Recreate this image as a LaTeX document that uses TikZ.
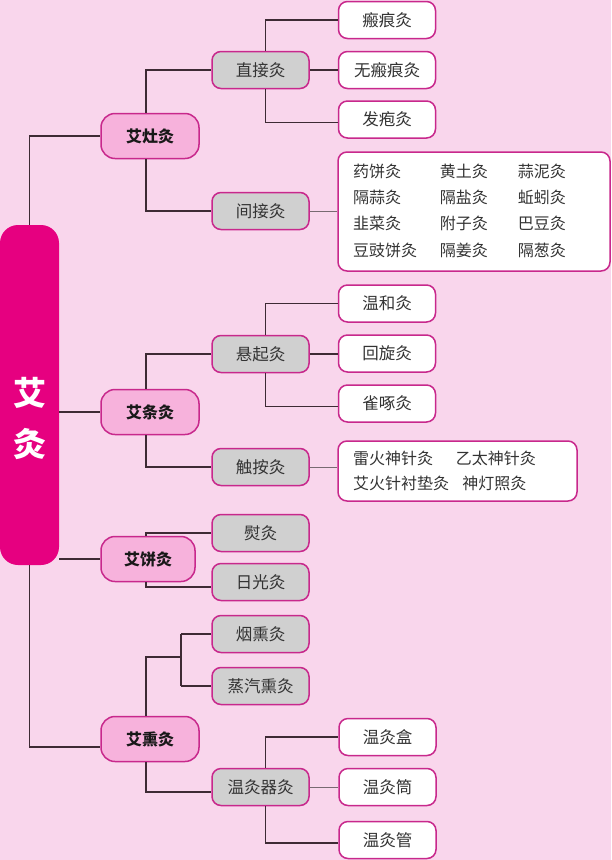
\documentclass[tikz,border=0pt]{standalone}
\usepackage{fontspec}
\setmainfont{Noto Sans CJK SC}
\definecolor{bgpink}{RGB}{249,214,236}
\definecolor{rootmag}{RGB}{230,0,128}
\definecolor{catpink}{RGB}{247,178,220}
\definecolor{edgemag}{RGB}{200,40,140}
\definecolor{subgrey}{RGB}{208,208,208}
\definecolor{wirecol}{RGB}{62,42,52}
\begin{document}
\begin{tikzpicture}[x=1pt, y=-1pt,
  wireline/.style={draw=wirecol, line width=1.6pt},
  thinwire/.style={draw=wirecol!70, line width=0.9pt},
  catbox/.style={draw=edgemag, fill=catpink, line width=1.5pt, rounded corners=14pt,
    minimum width=98pt, minimum height=45pt, inner sep=0pt, text=black!90,
    font=\fontsize{16}{18}\selectfont\bfseries},
  subbox/.style={draw=edgemag, fill=subgrey, line width=1.5pt, rounded corners=9pt,
    minimum width=97pt, minimum height=37pt, inner sep=0pt, text=black!80,
    font=\fontsize{16.5}{18}\selectfont},
  leafbox/.style={subbox, fill=white},
  listbox/.style={draw=edgemag, fill=white, line width=1.5pt, rounded corners=9pt,
    inner ysep=0pt, inner xsep=15pt, align=left, text=black!80}]
\fill[bgpink] (0,0) rectangle (611,860);
% root
\node[fill=rootmag, rounded corners=18pt, minimum width=59pt, minimum height=340pt] (root) at (29.5,395) {};
\node[text=white, align=center, font=\fontsize{33}{51}\selectfont\bfseries] (rootlbl) at (29.5,418) {艾\\灸};
% categories
\node[catbox] (zao) at (150,136) {艾灶灸};
\node[catbox] (tiao) at (150,412) {艾条灸};
\node[catbox, minimum width=94pt] (bing) at (148,559) {艾饼灸};
\node[catbox] (xun) at (150,739) {艾熏灸};
% second level
\node[subbox] (zhijie) at (260.5,70) {直接灸};
\node[subbox] (jianjie) at (260.5,211) {间接灸};
\node[subbox] (xuanqi) at (260.5,354) {悬起灸};
\node[subbox] (chuan) at (260.5,467) {触按灸};
\node[subbox] (yun) at (260.5,533) {熨灸};
\node[subbox] (riguang) at (260.5,582) {日光灸};
\node[subbox] (yanxun) at (260.5,634) {烟熏灸};
\node[subbox] (zhengqi) at (260.5,686) {蒸汽熏灸};
\node[subbox] (wenqi) at (260.5,787) {温灸器灸};
% leaves
\node[leafbox] (banhen) at (387,20) {瘢痕灸};
\node[leafbox] (wubanhen) at (387,70) {无瘢痕灸};
\node[leafbox] (fapao) at (387,119.5) {发疱灸};
\node[leafbox] (wenhe) at (387,303.5) {温和灸};
\node[leafbox] (huixuan) at (387,353.5) {回旋灸};
\node[leafbox] (quezhuo) at (387,403.5) {雀啄灸};
\node[leafbox] (wenhe2) at (387.5,737) {温灸盒};
\node[leafbox] (wentong) at (387.5,787) {温灸筒};
\node[leafbox] (wenguan) at (387.5,840) {温灸管};
\node[listbox, text width=242pt, minimum height=119pt,
  font=\fontsize{16}{26.3}\selectfont] (jianlist) at (474,211.5)
  {\begin{tabular}{@{}l@{\hspace{23pt}}l@{\hspace{30pt}}l@{}}
   药饼灸 & 黄土灸 & 蒜泥灸\\
   隔蒜灸 & 隔盐灸 & 蚯蚓灸\\
   韭菜灸 & 附子灸 & 巴豆灸\\
   豆豉饼灸 & 隔姜灸 & 隔葱灸
   \end{tabular}};
\node[listbox, text width=209pt, minimum height=60pt,
  font=\fontsize{16}{25}\selectfont] (chulist) at (457.5,471)
  {雷火神针灸\hspace{23pt}乙太神针灸\\
   艾火针衬垫灸\hspace{13.5pt}神灯照灸};
% connectors
\draw[wireline] (root.north) |- (zao.west);
\draw[wireline] (root.east |- tiao) -- (tiao.west);
\draw[wireline] (root.east |- bing) -- (bing.west);
\draw[wireline] (root.south) |- ([yshift=-8pt]xun.west);
\draw[wireline] ([xshift=-4pt]zao.north) |- (zhijie.west);
\draw[wireline] ([xshift=-4pt]zao.south) |- (jianjie.west);
\draw[wireline] ([xshift=-4pt]tiao.north) |- (xuanqi.west);
\draw[wireline] ([xshift=-4pt]tiao.south) |- (chuan.west);
\draw[wireline] ([xshift=-2pt]bing.north) |- (yun.west);
\draw[wireline] ([xshift=-2pt]bing.south) |- ([yshift=-5pt]riguang.west);
\coordinate (xunjoin) at (181,657);
\draw[wireline] ([xshift=-4pt]xun.north) |- (xunjoin);
\draw[wireline] (xunjoin |- yanxun) -- (xunjoin |- zhengqi);
\draw[wireline] (xunjoin |- yanxun) -- (yanxun.west);
\draw[wireline] (xunjoin |- zhengqi) -- (zhengqi.west);
\draw[wireline] ([xshift=-4pt]xun.south) |- ([yshift=-5pt]wenqi.west);
\draw[wireline] ([xshift=5pt]zhijie.north) |- (banhen.west);
\draw[wireline] (zhijie.east) -- (wubanhen.west);
\draw[wireline] ([xshift=5pt]zhijie.south) |- ([yshift=-3pt]fapao.west);
\draw[wireline] ([xshift=5pt]xuanqi.north) |- (wenhe.west);
\draw[wireline] (xuanqi.east) -- (xuanqi.east -| huixuan.west);
\draw[wireline] ([xshift=5pt]xuanqi.south) |- ([yshift=-3pt]quezhuo.west);
\draw[wireline] ([xshift=5pt]wenqi.north) |- (wenhe2.west);
\draw[thinwire] (wenqi.east) -- (wentong.west);
\draw[wireline] ([xshift=5pt]wenqi.south) |- ([yshift=-3pt]wenguan.west);
\draw[thinwire] (jianjie.east) -- (jianjie.east -| jianlist.west);
\draw[thinwire] (chuan.east) -- (chuan.east -| chulist.west);
\end{tikzpicture}
\end{document}
